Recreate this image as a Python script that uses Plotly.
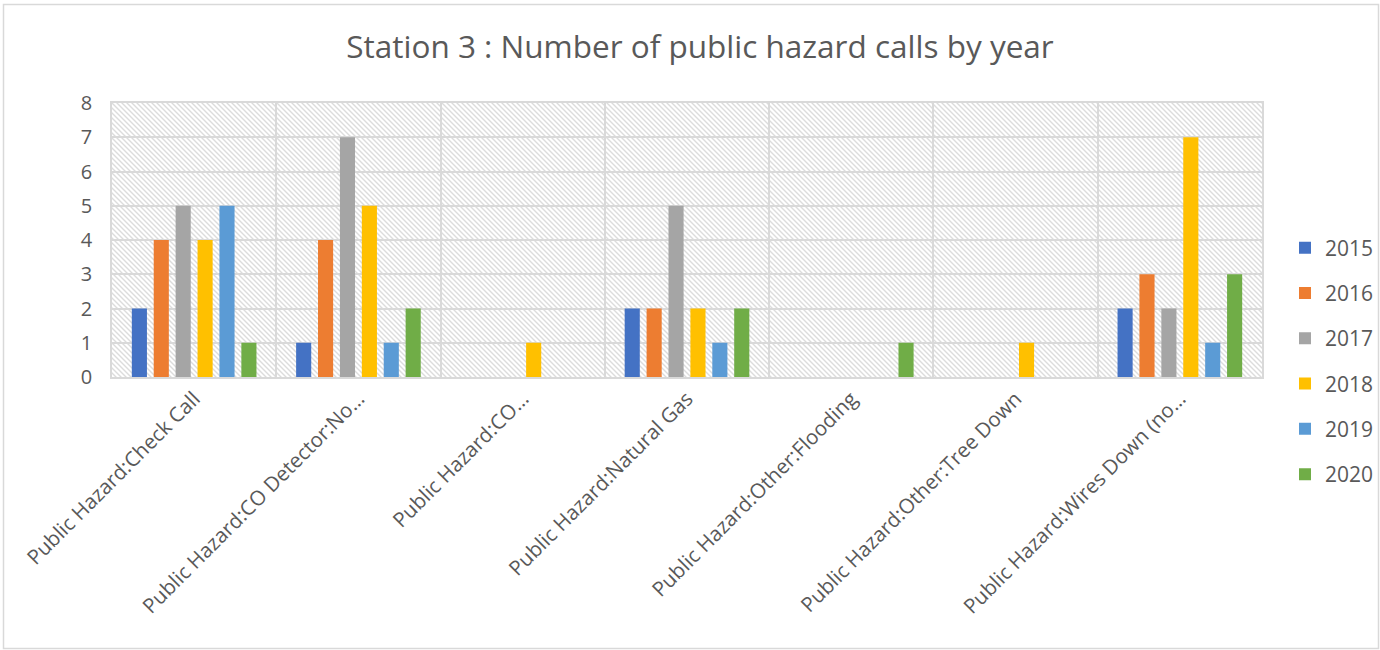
import base64
import plotly.graph_objects as go

categories = [
    "Public Hazard:Check Call",
    "Public Hazard:CO Detector:No…",
    "Public Hazard:CO…",
    "Public Hazard:Natural Gas",
    "Public Hazard:Other:Flooding",
    "Public Hazard:Other:Tree Down",
    "Public Hazard:Wires Down (no…",
]
years = ["2015", "2016", "2017", "2018", "2019", "2020"]
v2015 = [2, 1, 0, 2, 0, 0, 2]
v2016 = [4, 4, 0, 2, 0, 0, 3]
v2017 = [5, 7, 0, 5, 0, 0, 2]
v2018 = [4, 5, 1, 2, 0, 1, 7]
v2019 = [5, 1, 0, 1, 0, 0, 1]
v2020 = [1, 2, 0, 2, 1, 0, 3]
series = [v2015, v2016, v2017, v2018, v2019, v2020]
colors = ["#4472C4", "#ED7D31", "#A5A5A5", "#FFC000", "#5B9BD5", "#70AD47"]

W, H = 1380, 650
ML, MR, MT, MB = 112, 118, 103, 273
PW, PH = W - ML - MR, H - MT - MB

T = 5
svg = (
    f'<svg xmlns="http://www.w3.org/2000/svg" width="{PW}" height="{PH}" '
    f'viewBox="0 0 {PW} {PH}" preserveAspectRatio="none">'
    f'<defs><pattern id="p" width="{T}" height="{T}" patternUnits="userSpaceOnUse">'
    f'<path d="M0,0 L{T},{T} M-2,{T-2} L2,{T+2} M{T-2},-2 L{T+2},2" '
    'stroke="#dcdcdc" stroke-width="1.4"/>'
    '</pattern></defs>'
    f'<rect x="0" y="0" width="{PW}" height="{PH}" fill="white"/>'
    f'<rect x="0" y="0" width="{PW}" height="{PH}" fill="url(#p)"/></svg>'
)
src = "data:image/svg+xml;base64," + base64.b64encode(svg.encode()).decode()

FONT = "Open Sans, DejaVu Sans, sans-serif"
fig = go.Figure()
for yr, vals, col in zip(years, series, colors):
    fig.add_trace(go.Bar(
        x=categories, y=vals, name=yr, legendgroup=yr,
        marker=dict(color=col, line=dict(width=0)),
    ))

def px_to_paper_x(px):
    return (px - ML) / PW

def px_to_paper_y(py):
    return (H - MB - py) / PH

fig.update_layout(
    width=W, height=H, autosize=False,
    margin=dict(l=ML, r=MR, t=MT, b=MB, autoexpand=False),
    paper_bgcolor="white", plot_bgcolor="rgba(0,0,0,0)",
    barmode="group", bargap=0.20, bargroupgap=0.31,
    font=dict(family=FONT, color="#595959"),
    title=dict(text="Station 3 : Number of public hazard calls by year",
               x=700 / W, xanchor="center", y=1 - 47 / H, yanchor="middle",
               font=dict(size=31.5, color="#595959", family=FONT)),
    xaxis=dict(type="category", tickson="boundaries", showgrid=True,
               gridcolor="#d9d9d9", gridwidth=1.5, tickangle=-45,
               ticks="outside", ticklen=14, tickcolor="rgba(0,0,0,0)",
               tickfont=dict(size=20.5, color="#595959"), automargin=False,
               showline=True, linecolor="#d9d9d9", linewidth=1.5, mirror=True,
               zeroline=False),
    yaxis=dict(range=[0, 8], dtick=1, showgrid=True, gridcolor="#d9d9d9",
               gridwidth=1.5, ticks="outside", ticklen=14, automargin=False,
               tickcolor="rgba(0,0,0,0)", tickfont=dict(size=20, color="#595959"),
               showline=True, linecolor="#d9d9d9", linewidth=1.5, mirror=True,
               zeroline=False),
    legend=dict(x=px_to_paper_x(1285), xanchor="left",
                y=px_to_paper_y(361), yanchor="middle",
                font=dict(size=21, color="#595959", family=FONT),
                tracegroupgap=15, bgcolor="rgba(0,0,0,0)"),
    images=[dict(source=src, xref="paper", yref="paper", x=0, y=1,
                 sizex=1, sizey=1, sizing="stretch", layer="below",
                 xanchor="left", yanchor="top")],
    shapes=[dict(type="rect", xref="paper", yref="paper",
                 x0=px_to_paper_x(3.5), x1=px_to_paper_x(1378.5),
                 y0=px_to_paper_y(648.5), y1=px_to_paper_y(4.5),
                 line=dict(color="#d9d9d9", width=1.5), layer="below")],
)

fig.write_html(
    "out.html",
    config={"responsive": False, "displayModeBar": False},
    post_script="document.body.style.margin='0';document.body.style.overflow='hidden';",
)
